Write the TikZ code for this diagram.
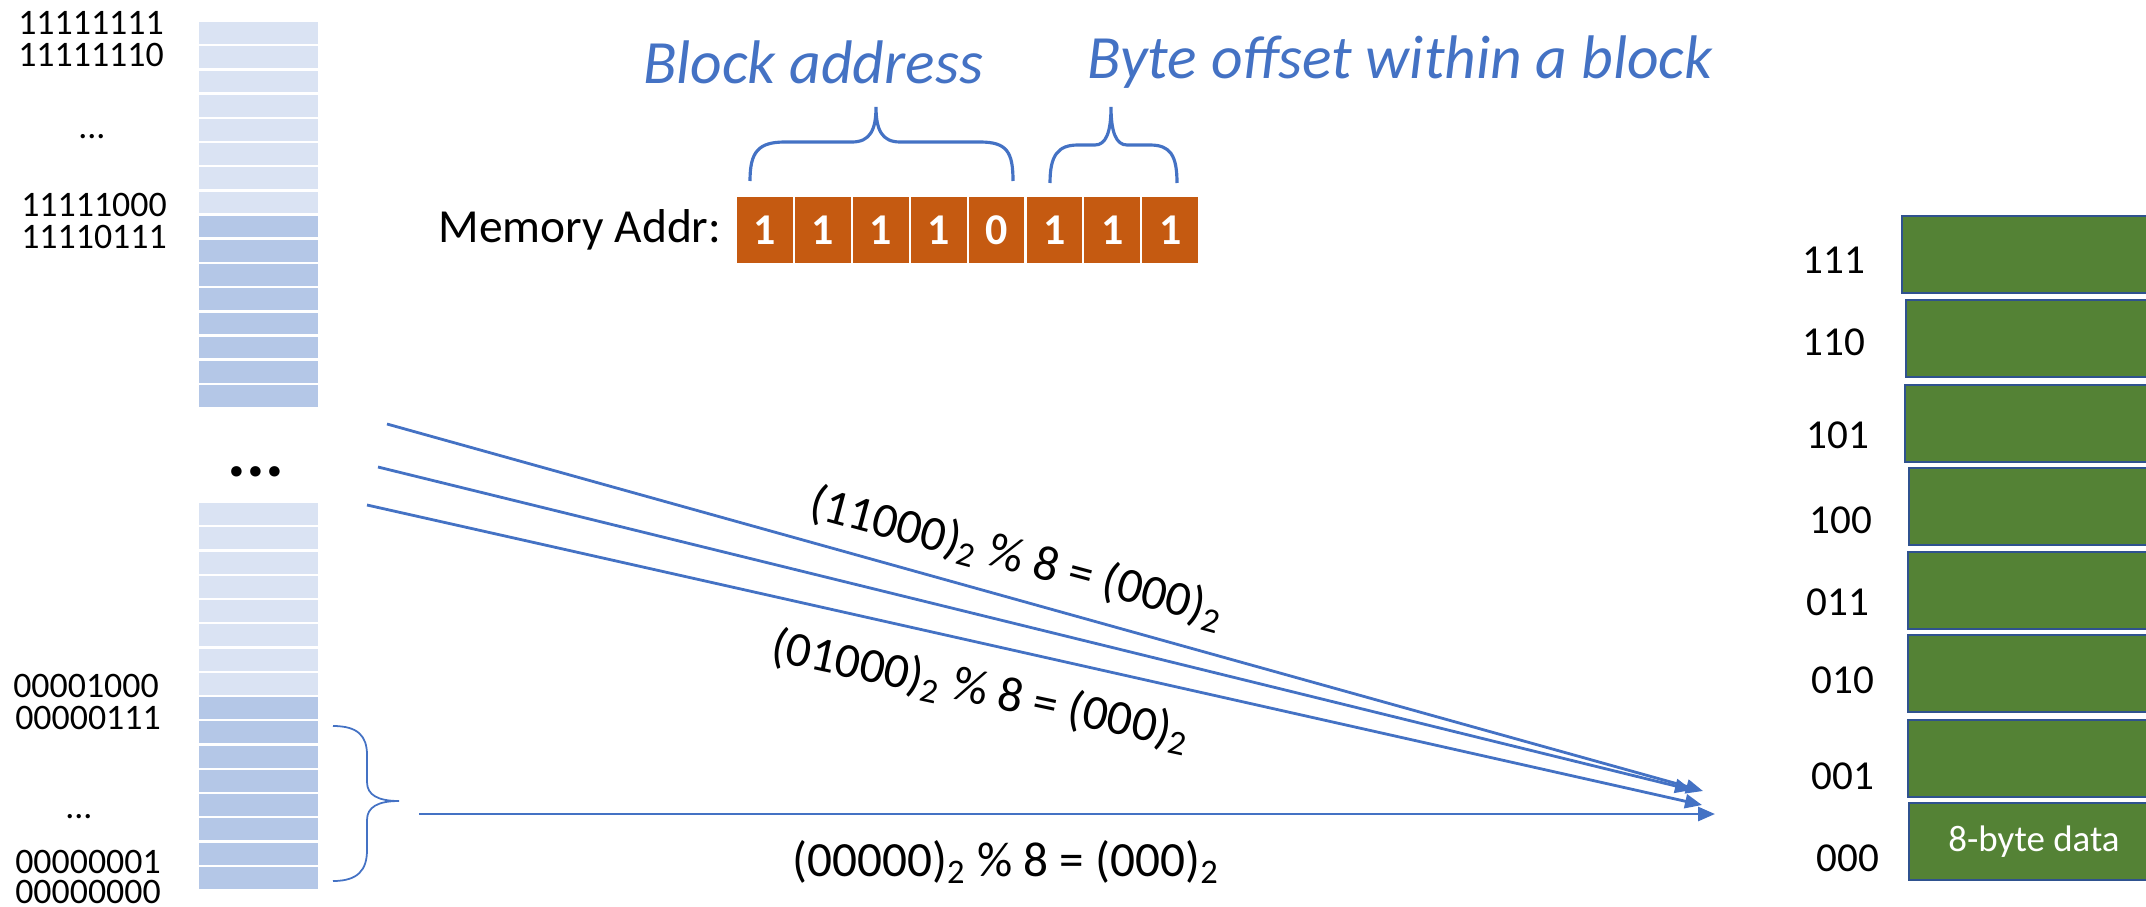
\documentclass[tikz,border=0pt]{standalone}
\usepackage{fontspec}
\setmainfont{Carlito}
\usetikzlibrary{arrows.meta,positioning}
\definecolor{lightrow}{HTML}{DAE3F3}
\definecolor{darkrow}{HTML}{B4C7E7}
\definecolor{bitorange}{HTML}{C55A11}
\definecolor{cachegreen}{HTML}{548235}
\definecolor{cacheedge}{HTML}{2F528F}
\definecolor{linkblue}{HTML}{4472C4}
\begin{document}
\begin{tikzpicture}[x=0.01cm, y=-0.01cm,
  addr/.style={font=\fontsize{10.2}{12}\selectfont, inner sep=0pt},
  bit/.style={fill=bitorange, draw=white, line width=0.6pt, minimum width=0.579cm,
    minimum height=0.68cm, inner sep=0pt, text=white, font=\fontsize{12.5}{14}\selectfont\bfseries},
  link/.style={draw=linkblue, line width=0.8pt, -{Triangle[length=0.17cm,width=0.14cm]}},
  modlabel/.style={font=\fontsize{14}{16}\selectfont, inner sep=0pt},
  cacheline/.style={fill=cachegreen, draw=cacheedge, line width=0.6pt},
  setlabel/.style={font=\fontsize{11.7}{14}\selectfont, inner sep=0pt},
  hand/.style={text=linkblue, font=\fontsize{17.5}{20}\selectfont\itshape, inner sep=0pt},
  curly/.style={draw=linkblue, line width=0.9pt}]

\useasboundingbox (0,0) rectangle (2146,906);
\clip (0,0) rectangle (2146,906);

\foreach \i in {0,...,15}{
  \ifnum\i<8 \def\rowcol{lightrow}\else\def\rowcol{darkrow}\fi
  \path[fill=\rowcol, draw=white, line width=0.7pt] (198,21+24.19*\i) rectangle (319,45.19+24.19*\i);
  \path[fill=\rowcol, draw=white, line width=0.7pt] (198,502+24.25*\i) rectangle (319,526.25+24.25*\i);
}

\foreach \t/\x/\y in {11111111/91/23, 11111110/91/55, 11111000/94/205, 11110111/94/237,
  00001000/86/686, 00000111/88/718, 00000001/88/862, 00000000/88/892}
  \node[addr] (addr\t) at (\x,\y) {\t};
\node[addr] (skiphigh) at (92,137) {...};
\node[addr] (skiplow) at (79,817) {...};

\node[font=\fontsize{20}{24}\selectfont\bfseries, inner sep=0pt] (gap) at (256,472) {...};

\foreach \d [count=\k] in {1,1,1,1,0,1,1,1}
  \node[bit] (b\k) at (707.05+57.9*\k, 230) {\d};
\node[font=\fontsize{13.5}{16}\selectfont, inner sep=0pt, left=0.13cm of b1] (memaddr) {Memory Addr:};

\node[hand] (blockaddr) at (813,62) {Block address};
\node[hand] (offset) at (1400,62) {Byte offset within a block};

\draw[curly] (750,181) .. controls (750,152) and (758,142) .. (785,142) -- (852,142)
  .. controls (870,142) and (876,130) .. (876,107) .. controls (876,130) and (882,142) .. (900,142)
  -- (980,142) .. controls (1007,142) and (1013,152) .. (1013,181);
\draw[curly] (1050,183) .. controls (1050,155) and (1058,145) .. (1078,145) -- (1095,145)
  .. controls (1106,145) and (1111,132) .. (1111,107) .. controls (1111,132) and (1116,145) .. (1127,145)
  -- (1150,145) .. controls (1170,145) and (1177,155) .. (1177,183);
\draw[curly, line width=0.5pt] (333,726) .. controls (358,726) and (367,736) .. (367,755) -- (367,782)
  .. controls (367,795) and (378,801) .. (399,801) .. controls (378,801) and (367,807) .. (367,820)
  -- (367,850) .. controls (367,870) and (358,881) .. (333,881);

\coordinate (s1) at (387,424); \coordinate (e1) at (1703,791);
\coordinate (s2) at (378,467); \coordinate (e2) at (1692,790);
\coordinate (s3) at (367,505); \coordinate (e3) at (1702,805);
\coordinate (s4) at (419,814); \coordinate (e4) at (1715,814);
\draw[link] (s1) -- (e1);
\draw[link] (s2) -- (e2);
\draw[link] (s3) -- (e3);
\draw[link] (s4) -- (e4);

\node[modlabel, rotate=-15] (mod1) at (1017,558) {(11000)\textsubscript{2} \% 8 = (000)\textsubscript{2}};
\node[modlabel, rotate=-12] (mod2) at (981,691) {(01000)\textsubscript{2} \% 8 = (000)\textsubscript{2}};
\node[modlabel] (mod3) at (1006,862) {(00000)\textsubscript{2} \% 8 = (000)\textsubscript{2}};

\foreach \lab/\x/\y/\lx/\ly in {111/1902/216/1834/260, 110/1906/300/1834/342, 101/1905/385/1838/435,
  100/1909/468/1841/520, 011/1908/552/1838/602, 010/1908/635/1843/680, 001/1908/720/1843/776,
  000/1909/803/1848/858}{
  \draw[cacheline] (\x,\y) rectangle (2170,\y+77);
  \node[setlabel] (set\lab) at (\lx,\ly) {\lab};
}
\node[font=\fontsize{10.5}{12}\selectfont, text=white, inner sep=0pt] (data) at (2034,842) {8-byte data};

\end{tikzpicture}
\end{document}
